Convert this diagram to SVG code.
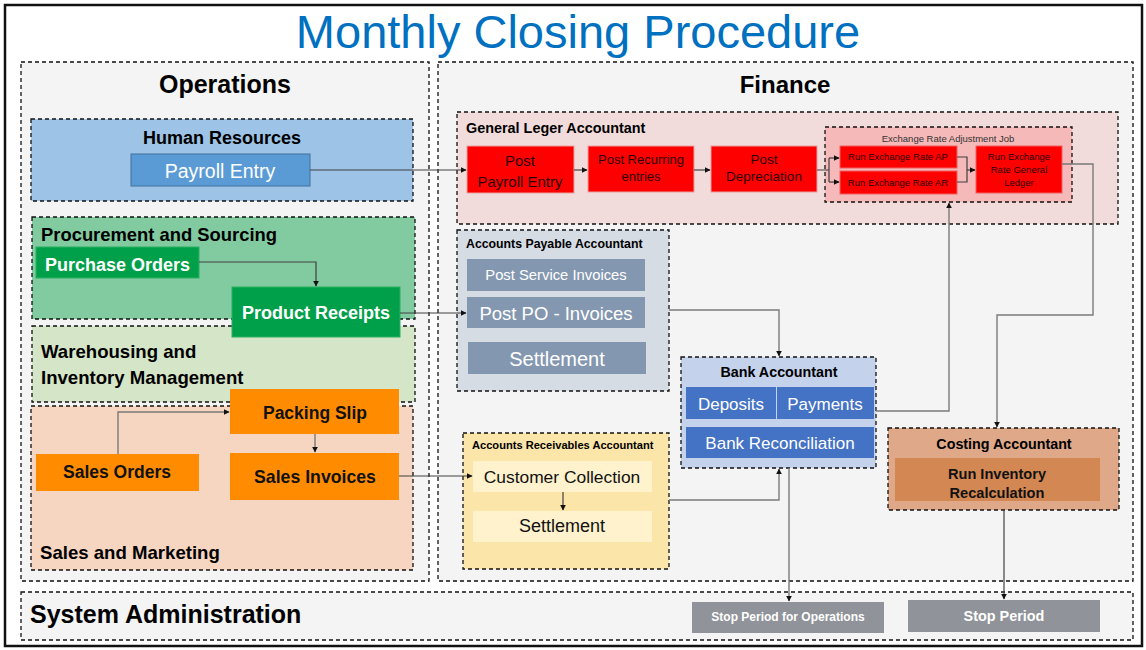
<svg xmlns="http://www.w3.org/2000/svg" width="1146" height="650" viewBox="0 0 1146 650">
<defs>
<marker id="arr" viewBox="0 0 10 10" refX="9" refY="5" markerWidth="6" markerHeight="6" orient="auto" markerUnits="userSpaceOnUse"><path d="M0,0 L10,5 L0,10 z" fill="#111"/></marker>
<style>
text{font-family:"Liberation Sans",Arial,sans-serif}
.panel{stroke:#111;stroke-width:1.3;stroke-dasharray:4,3}
.b{font-weight:bold}
.c{text-anchor:middle}
.w{fill:#fff}
.k{fill:#111}
.red{fill:#ff0000;stroke:#e8a0a0;stroke-width:1}
.red2{fill:#ff0000;stroke:#f06060;stroke-width:1}
.rt{fill:#2a0000}
.con{fill:none;stroke:#404040;stroke-width:1.2}
.con2{fill:none;stroke:#7a7a7a;stroke-width:1.4}
</style>
</defs>
<rect x="0" y="0" width="1146" height="650" fill="#fff"/>
<rect x="5" y="5" width="1137" height="641" fill="#fff" stroke="#111" stroke-width="2.5"/>
<text x="578" y="48" class="c" font-size="47" fill="#0070C0">Monthly Closing Procedure</text>

<g id="operations"><rect class="panel" x="21" y="62" width="408" height="519" fill="#f4f4f4"/>
<text x="225" y="93" class="c b" font-size="25">Operations</text></g>
<g id="finance"><rect class="panel" x="438" y="62" width="695" height="519" fill="#f4f4f4"/>
<text x="785" y="93" class="c b" font-size="24">Finance</text></g>
<g id="sysadmin"><rect class="panel" x="21" y="592" width="1112" height="48" fill="#f4f4f4"/>
<text x="30" y="623" class="b" font-size="25">System Administration</text></g>

<g id="hr"><rect class="panel" x="31" y="119" width="382" height="82" fill="#9dc3e6"/>
<text x="222" y="144" class="c b" font-size="18">Human Resources</text></g>
<g id="payroll-entry"><rect x="131" y="154" width="179" height="32" fill="#5b9bd5" stroke="#41719c"/>
<text x="220" y="178" class="c w" font-size="19.5">Payroll Entry</text></g>

<g id="procurement"><rect class="panel" x="32" y="217" width="383" height="102" fill="#82cba0"/>
<text x="41" y="241" class="b" font-size="18.4">Procurement and Sourcing</text></g>
<g id="warehousing"><rect class="panel" x="32" y="326" width="383" height="76" fill="#d5e5c7"/>
<text x="41" y="358" class="b" font-size="18.6">Warehousing and</text>
<text x="41" y="384" class="b" font-size="18.6">Inventory Management</text></g>
<g id="sales-marketing"><rect class="panel" x="31" y="406" width="382" height="164" fill="#f6d5c1"/>
<text x="40" y="559" class="b" font-size="18.6">Sales and Marketing</text></g>

<g id="purchase-orders"><rect x="36" y="247" width="163" height="31" fill="#00a04a" stroke="#2bb062"/>
<text x="45" y="271" class="b w" font-size="18">Purchase Orders</text></g>
<g id="product-receipts"><rect x="232" y="287" width="168" height="50" fill="#00a04a" stroke="#2bb062"/>
<text x="316" y="319" class="c b w" font-size="18">Product Receipts</text></g>
<g id="packing-slip"><rect x="230" y="389" width="169" height="45" fill="#ff8c00"/>
<text x="315" y="419" class="c b k" font-size="17.5">Packing Slip</text></g>
<g id="sales-orders"><rect x="36" y="454" width="163" height="37" fill="#ff8c00"/>
<text x="117" y="478" class="c b k" font-size="17.5">Sales Orders</text></g>
<g id="sales-invoices"><rect x="230" y="453" width="169" height="47" fill="#ff8c00"/>
<text x="315" y="483" class="c b k" font-size="17.7">Sales Invoices</text></g>

<g id="gl-accountant"><rect class="panel" x="457" y="112" width="661" height="112" fill="#f2dcdb"/>
<text x="466" y="133" class="b" font-size="14.4">General Leger Accountant</text></g>
<g id="post-payroll"><rect class="red" x="467" y="146" width="107" height="47"/>
<text x="520" y="166" class="c rt" font-size="15">Post</text>
<text x="520" y="187" class="c rt" font-size="15">Payroll Entry</text></g>
<g id="post-recurring"><rect class="red" x="588" y="146" width="106" height="46"/>
<text x="641" y="164" class="c rt" font-size="13">Post Recurring</text>
<text x="641" y="181" class="c rt" font-size="13">entries</text></g>
<g id="post-depreciation"><rect class="red" x="711" y="146" width="106" height="46"/>
<text x="764" y="164" class="c rt" font-size="13.5">Post</text>
<text x="764" y="181" class="c rt" font-size="13.5">Depreciation</text></g>
<g id="exchange-job"><rect class="panel" x="825" y="127" width="247" height="75" fill="#f4b9b8"/>
<text x="948" y="142" class="c" font-size="9.5" fill="#333">Exchange Rate Adjustment Job</text></g>
<g id="rate-ap"><rect class="red2" x="840" y="146" width="117" height="22"/>
<text x="898" y="160" class="c rt" font-size="9.5">Run Exchange Rate AP</text></g>
<g id="rate-ar"><rect class="red2" x="840" y="171" width="117" height="23"/>
<text x="898" y="186" class="c rt" font-size="9.5">Run Exchange Rate AR</text></g>
<g id="rate-gl"><rect class="red2" x="976" y="146" width="86" height="47"/>
<text x="1019" y="160" class="c rt" font-size="9.5">Run Exchange</text>
<text x="1019" y="173" class="c rt" font-size="9.5">Rate General</text>
<text x="1019" y="186" class="c rt" font-size="9.5">Ledger</text></g>

<g id="ap-accountant"><rect class="panel" x="457" y="230" width="212" height="161" fill="#d6dce4"/>
<text x="466" y="248" class="b" font-size="12.3">Accounts Payable Accountant</text></g>
<g id="post-service"><rect x="467" y="259" width="178" height="32" fill="#8497b0"/>
<text x="556" y="280" class="c w" font-size="14.8">Post Service Invoices</text></g>
<g id="post-po"><rect x="467" y="297" width="178" height="31" fill="#8497b0"/>
<text x="556" y="320" class="c w" font-size="18.5">Post PO - Invoices</text></g>
<g id="ap-settlement"><rect x="468" y="342" width="178" height="32" fill="#8497b0"/>
<text x="557" y="366" class="c w" font-size="20">Settlement</text></g>

<g id="bank-accountant"><rect class="panel" x="681" y="357" width="195" height="111" fill="#c5d2eb"/>
<text x="779" y="377" class="c b" font-size="14.3">Bank Accountant</text></g>
<g id="deposits"><rect x="686" y="387" width="90" height="32" fill="#4472c4"/>
<text x="731" y="410" class="c w" font-size="17">Deposits</text></g>
<g id="payments"><rect x="777" y="387" width="97" height="32" fill="#4472c4"/>
<text x="825" y="410" class="c w" font-size="17">Payments</text></g>
<g id="bank-reconciliation"><rect x="686" y="427" width="188" height="31" fill="#4472c4"/>
<text x="780" y="449" class="c w" font-size="17">Bank Reconciliation</text></g>

<g id="ar-accountant"><rect class="panel" x="463" y="433" width="206" height="136" fill="#fbe5a8"/>
<text x="472" y="449" class="b" font-size="11.1">Accounts Receivables Accountant</text></g>
<g id="customer-collection"><rect x="473" y="461" width="179" height="31" fill="#fff2cc"/>
<text x="562" y="483" class="c k" font-size="17.4">Customer Collection</text></g>
<g id="ar-settlement"><rect x="473" y="511" width="179" height="31" fill="#fff2cc"/>
<text x="562" y="532" class="c k" font-size="18">Settlement</text></g>

<g id="costing-accountant"><rect class="panel" x="888" y="428" width="231" height="82" fill="#dfa888"/>
<text x="1004" y="449" class="c b" font-size="14.3">Costing Accountant</text></g>
<g id="inventory-recalc"><rect x="895" y="458" width="205" height="43" fill="#d38752"/>
<text x="997" y="479" class="c b k" font-size="14.6">Run Inventory</text>
<text x="997" y="498" class="c b k" font-size="14.6">Recalculation</text></g>

<g id="stop-ops"><rect x="692" y="602" width="192" height="31" fill="#909399"/>
<text x="788" y="621" class="c b w" font-size="12">Stop Period for Operations</text></g>
<g id="stop-period"><rect x="908" y="600" width="192" height="32" fill="#909399"/>
<text x="1004" y="621" class="c b w" font-size="14.4">Stop Period</text></g>

<g id="connectors">
<path class="con" d="M310,170 H466" marker-end="url(#arr)"/>
<path class="con" d="M199,262 H316 V286" marker-end="url(#arr)"/>
<path class="con" d="M400,313 H466" marker-end="url(#arr)"/>
<path class="con2" d="M118,454 V412 H229" marker-end="url(#arr)"/>
<path class="con2" d="M315,434 V452" marker-end="url(#arr)"/>
<path class="con" d="M399,476 H472" marker-end="url(#arr)"/>
<path class="con" d="M563,492 V510" marker-end="url(#arr)"/>
<path class="con2" d="M669,500 H779 V469" marker-end="url(#arr)"/>
<path class="con2" d="M789,468 V601" marker-end="url(#arr)"/>
<path class="con2" d="M669,310 H779 V356" marker-end="url(#arr)"/>
<path class="con2" d="M876,411 H949 V203" marker-end="url(#arr)"/>
<path class="con2" d="M1062,164 H1093 V315 H997 V427" marker-end="url(#arr)"/>
<path class="con" d="M1004,510 V599" marker-end="url(#arr)"/>
<path class="con" d="M574,170 H587" marker-end="url(#arr)"/>
<path class="con" d="M694,170 H710" marker-end="url(#arr)"/>
<path class="con" d="M817,170 H829 M829,158 V182" />
<path class="con" d="M829,158 H839" marker-end="url(#arr)"/>
<path class="con" d="M829,182 H839" marker-end="url(#arr)"/>
<path class="con" d="M957,157 H967 V182 H957"/>
<path class="con" d="M967,170 H975" marker-end="url(#arr)"/>
</g>
</svg>
